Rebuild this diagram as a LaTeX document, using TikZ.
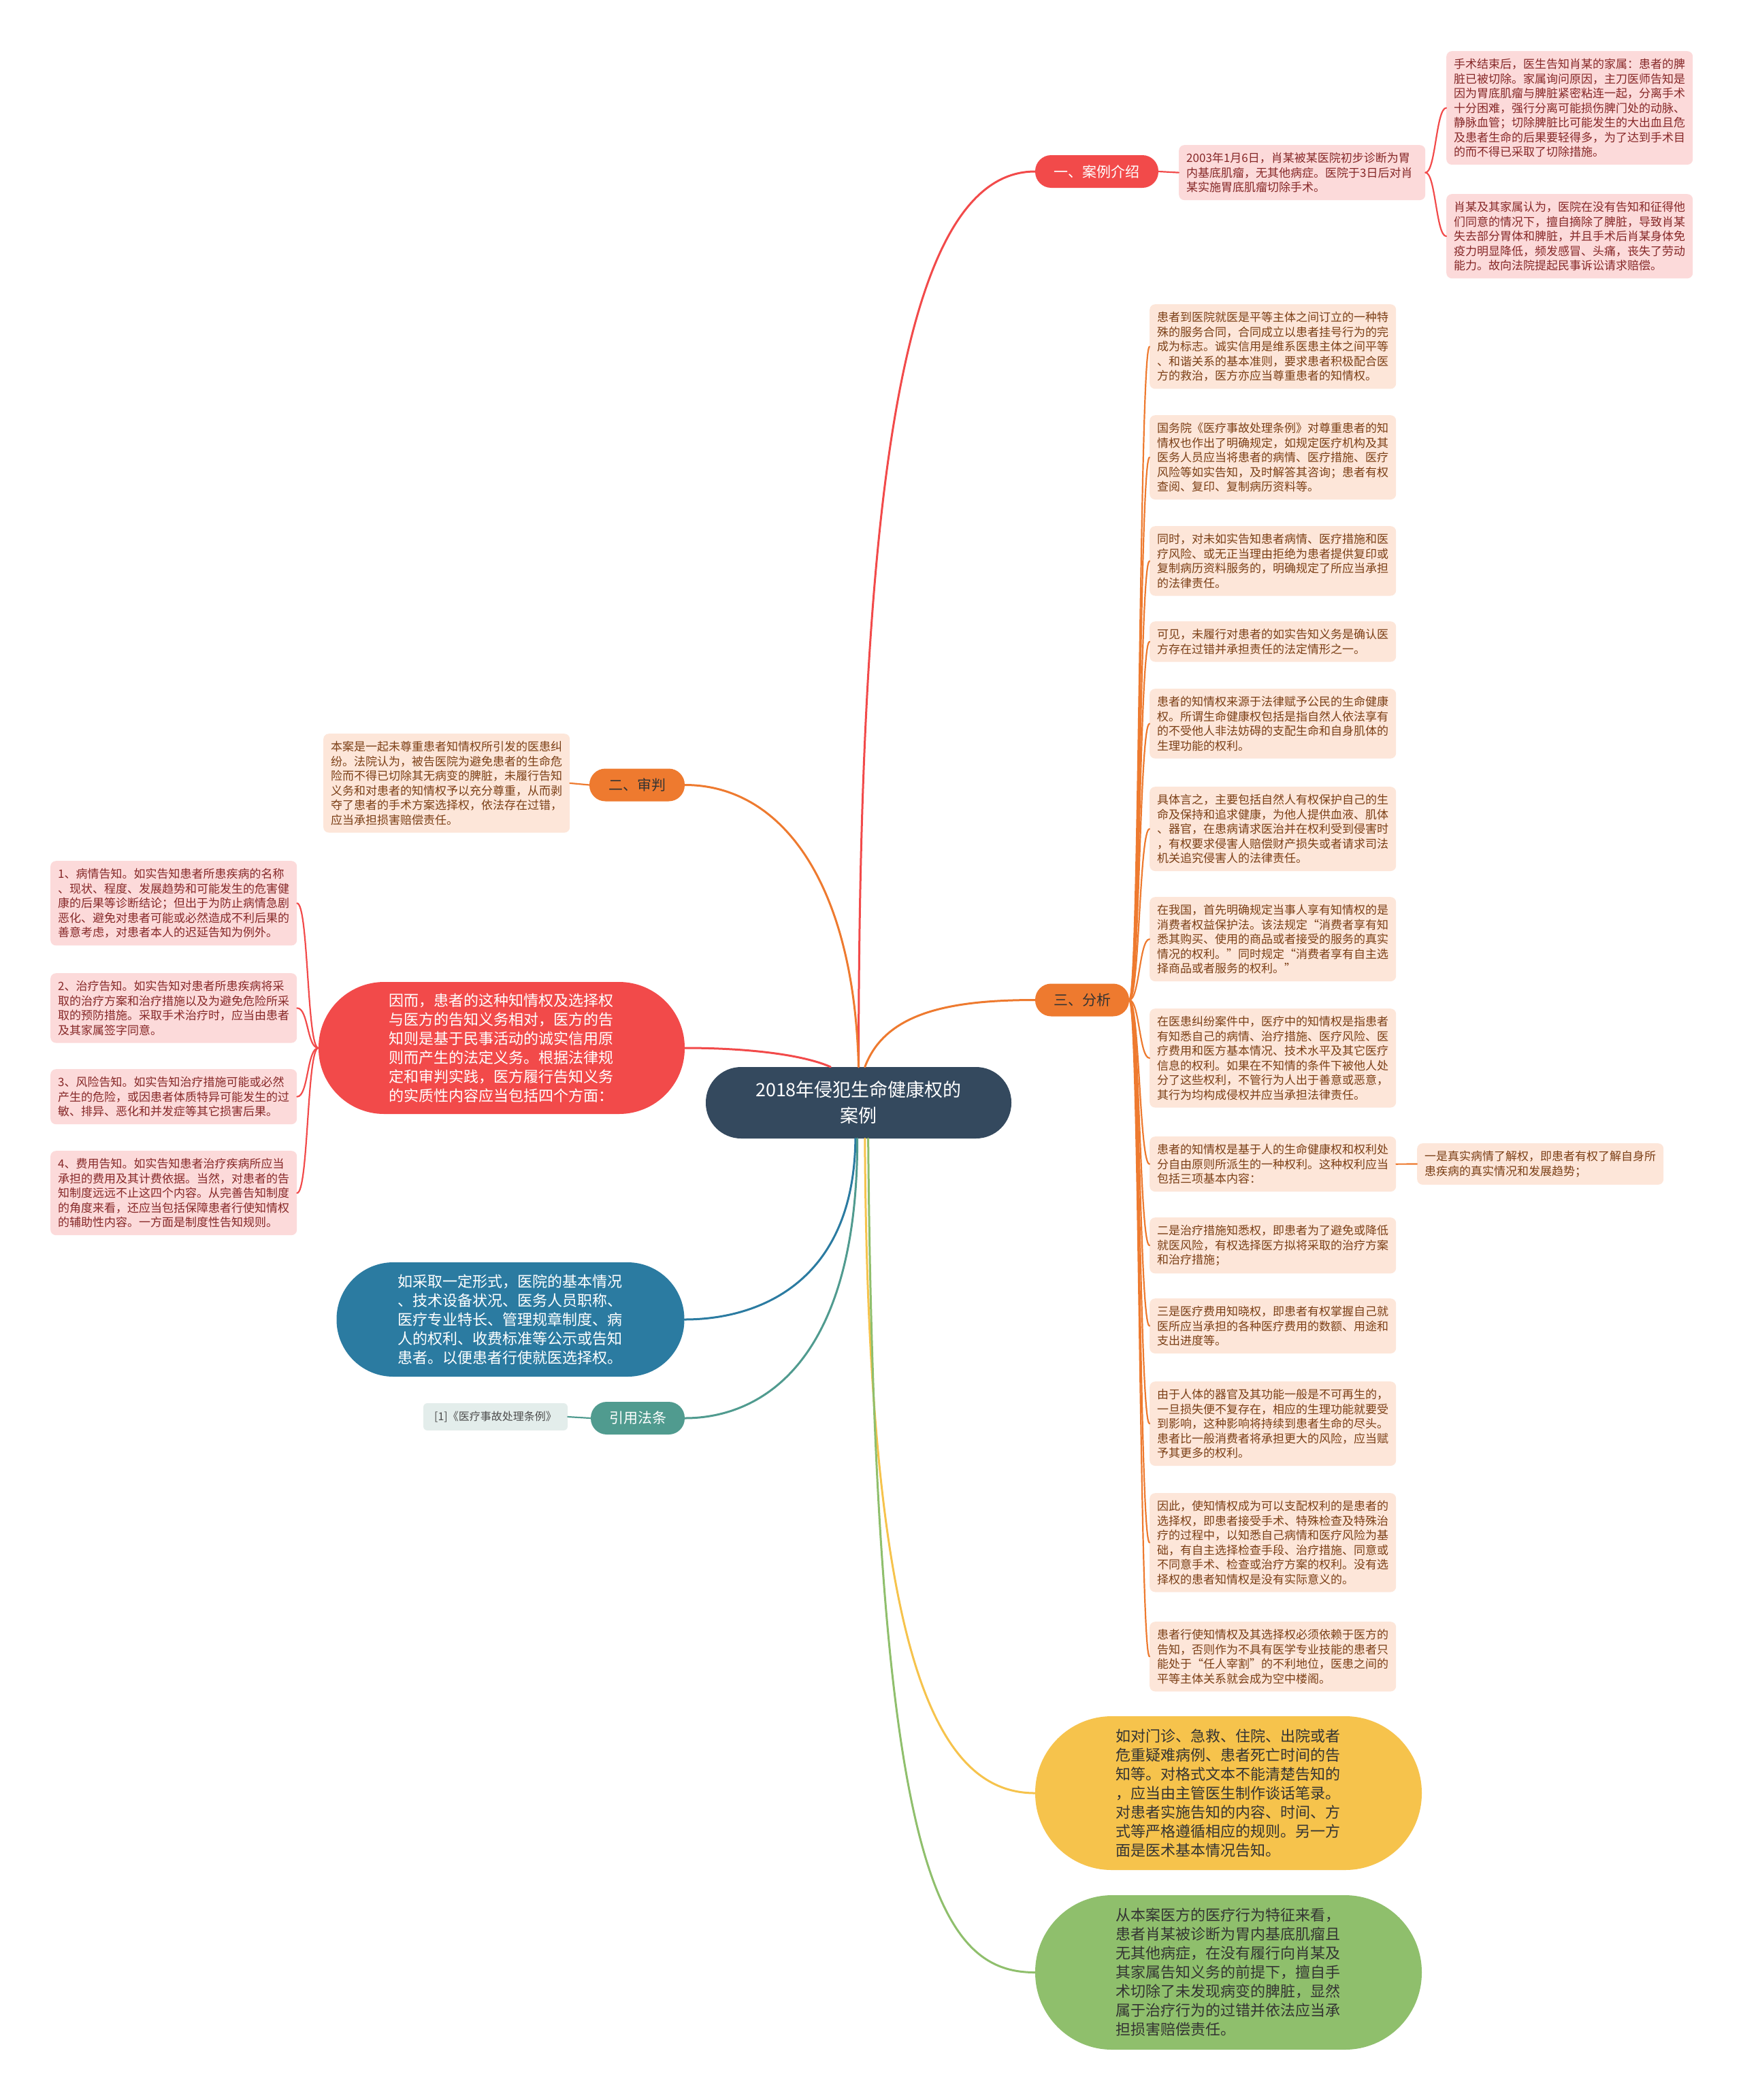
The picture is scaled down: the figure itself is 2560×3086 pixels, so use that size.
\documentclass[tikz,border=0pt]{standalone}
\usepackage{fontspec}
\setmainfont{Noto Sans CJK SC}
\definecolor{hubblue}{HTML}{34495E}
\definecolor{caseRed}{HTML}{F24A4A}
\definecolor{trialOrange}{HTML}{EE7A2F}
\definecolor{infoBlue}{HTML}{2B7BA1}
\definecolor{citeTeal}{HTML}{509B8F}
\definecolor{noticeYellow}{HTML}{F6C34C}
\definecolor{faultGreen}{HTML}{8FBF6C}
\definecolor{pinkbg}{HTML}{FCDADA}
\definecolor{pinktext}{HTML}{862828}
\definecolor{peachbg}{HTML}{FDE6D9}
\definecolor{peachtext}{HTML}{7B3F16}
\definecolor{citebg}{HTML}{E3EDEB}
\begin{document}
\begin{tikzpicture}[x=1pt,y=-1pt,
    pill/.style={rectangle, minimum height=48pt, inner sep=0pt, rounded corners=23.5pt, font=\fontsize{21}{25}\selectfont},
    bignode/.style={rectangle, inner sep=0pt, align=left, text width=332pt, font=\fontsize{22}{28}\selectfont},
    leaf/.style={rectangle, anchor=north west, rounded corners=8pt, align=left, text width=340pt, inner xsep=11pt, inner ysep=11pt, font=\fontsize{17}{21.5}\selectfont},
    redleaf/.style={leaf, fill=pinkbg, text=pinktext},
    orleaf/.style={leaf, fill=peachbg, text=peachtext},
    link/.style={line width=3pt, line cap=round},
    twig/.style={line width=2.2pt, line cap=round}]
\fill[white] (0,0) rectangle (2560,3086);
\useasboundingbox (0,0) rectangle (2560,3086);

\node[rectangle, fill=hubblue, text=white, minimum width=449pt, minimum height=105pt, rounded corners=52pt, align=center, font=\fontsize{27}{38}\selectfont] (ctr) at (1261.5,1620.5) {2018年侵犯生命健康权的\\案例};

\node[pill, fill=caseRed, text=white, minimum width=181pt] (b1) at (1611.5,252) {一、案例介绍};
\node[pill, fill=trialOrange, text=black!80, minimum width=140pt] (b2) at (936,1153.5) {二、审判};
\node[pill, fill=trialOrange, text=black!80, minimum width=138pt] (b3) at (1590,1469.5) {三、分析};
\node[pill, fill=citeTeal, text=white, minimum width=138pt] (cite) at (937,2084) {引用法条};

\node[bignode, fill=caseRed, text=white, minimum width=538pt, minimum height=194pt, rounded corners=96.5pt] (rn) at (737,1540) {因而，患者的这种知情权及选择权\\与医方的告知义务相对，医方的告\\知则是基于民事活动的诚实信用原\\则而产生的法定义务。根据法律规\\定和审判实践，医方履行告知义务\\的实质性内容应当包括四个方面：};
\node[bignode, fill=infoBlue, text=white, minimum width=511pt, minimum height=168pt, rounded corners=83.5pt] (bn) at (750,1939) {如采取一定形式，医院的基本情况\\、技术设备状况、医务人员职称、\\医疗专业特长、管理规章制度、病\\人的权利、收费标准等公示或告知\\患者。以便患者行使就医选择权。};
\node[bignode, fill=noticeYellow, text=black!80, minimum width=568pt, minimum height=226pt, rounded corners=112.5pt] (yn) at (1805,2635) {如对门诊、急救、住院、出院或者\\危重疑难病例、患者死亡时间的告\\知等。对格式文本不能清楚告知的\\，应当由主管医生制作谈话笔录。\\对患者实施告知的内容、时间、方\\式等严格遵循相应的规则。另一方\\面是医术基本情况告知。};
\node[bignode, fill=faultGreen, text=black!80, minimum width=568pt, minimum height=227pt, rounded corners=113pt] (gn) at (1805,2898.5) {从本案医方的医疗行为特征来看，\\患者肖某被诊断为胃内基底肌瘤且\\无其他病症，在没有履行向肖某及\\其家属告知义务的前提下，擅自手\\术切除了未发现病变的脾脏，显然\\属于治疗行为的过错并依法应当承\\担损害赔偿责任。};

\node[redleaf] (c0) at (1732,213) {2003年1月6日，肖某被某医院初步诊断为胃\\内基底肌瘤，无其他病症。医院于3日后对肖\\某实施胃底肌瘤切除手术。};
\node[redleaf] (cA) at (2125,75) {手术结束后，医生告知肖某的家属：患者的脾\\脏已被切除。家属询问原因，主刀医师告知是\\因为胃底肌瘤与脾脏紧密粘连一起，分离手术\\十分困难，强行分离可能损伤脾门处的动脉、\\静脉血管；切除脾脏比可能发生的大出血且危\\及患者生命的后果要轻得多，为了达到手术目\\的而不得已采取了切除措施。};
\node[redleaf] (cB) at (2125,285) {肖某及其家属认为，医院在没有告知和征得他\\们同意的情况下，擅自摘除了脾脏，导致肖某\\失去部分胃体和脾脏，并且手术后肖某身体免\\疫力明显降低，频发感冒、头痛，丧失了劳动\\能力。故向法院提起民事诉讼请求赔偿。};

\node[orleaf] (jd) at (475,1078) {本案是一起未尊重患者知情权所引发的医患纠\\纷。法院认为，被告医院为避免患者的生命危\\险而不得已切除其无病变的脾脏，未履行告知\\义务和对患者的知情权予以充分尊重，从而剥\\夺了患者的手术方案选择权，依法存在过错，\\应当承担损害赔偿责任。};

\node[orleaf] (a1) at (1689,447) {患者到医院就医是平等主体之间订立的一种特\\殊的服务合同，合同成立以患者挂号行为的完\\成为标志。诚实信用是维系医患主体之间平等\\、和谐关系的基本准则，要求患者积极配合医\\方的救治，医方亦应当尊重患者的知情权。};
\node[orleaf] (a2) at (1689,610) {国务院《医疗事故处理条例》对尊重患者的知\\情权也作出了明确规定，如规定医疗机构及其\\医务人员应当将患者的病情、医疗措施、医疗\\风险等如实告知，及时解答其咨询；患者有权\\查阅、复印、复制病历资料等。};
\node[orleaf] (a3) at (1689,773) {同时，对未如实告知患者病情、医疗措施和医\\疗风险、或无正当理由拒绝为患者提供复印或\\复制病历资料服务的，明确规定了所应当承担\\的法律责任。};
\node[orleaf] (a4) at (1689,913) {可见，未履行对患者的如实告知义务是确认医\\方存在过错并承担责任的法定情形之一。};
\node[orleaf] (a5) at (1689,1012) {患者的知情权来源于法律赋予公民的生命健康\\权。所谓生命健康权包括是指自然人依法享有\\的不受他人非法妨碍的支配生命和自身肌体的\\生理功能的权利。};
\node[orleaf] (a6) at (1689,1156) {具体言之，主要包括自然人有权保护自己的生\\命及保持和追求健康，为他人提供血液、肌体\\、器官，在患病请求医治并在权利受到侵害时\\，有权要求侵害人赔偿财产损失或者请求司法\\机关追究侵害人的法律责任。};
\node[orleaf] (a7) at (1689,1318) {在我国，首先明确规定当事人享有知情权的是\\消费者权益保护法。该法规定“消费者享有知\\悉其购买、使用的商品或者接受的服务的真实\\情况的权利。”同时规定“消费者享有自主选\\择商品或者服务的权利。”};
\node[orleaf] (a8) at (1689,1482) {在医患纠纷案件中，医疗中的知情权是指患者\\有知悉自己的病情、治疗措施、医疗风险、医\\疗费用和医方基本情况、技术水平及其它医疗\\信息的权利。如果在不知情的条件下被他人处\\分了这些权利，不管行为人出于善意或恶意，\\其行为均构成侵权并应当承担法律责任。};
\node[orleaf] (a9) at (1689,1670) {患者的知情权是基于人的生命健康权和权利处\\分自由原则所派生的一种权利。这种权利应当\\包括三项基本内容：};
\node[orleaf] (a9s) at (2082,1680) {一是真实病情了解权，即患者有权了解自身所\\患疾病的真实情况和发展趋势；};
\node[orleaf] (a10) at (1689,1789) {二是治疗措施知悉权，即患者为了避免或降低\\就医风险，有权选择医方拟将采取的治疗方案\\和治疗措施；};
\node[orleaf] (a11) at (1689,1908) {三是医疗费用知晓权，即患者有权掌握自己就\\医所应当承担的各种医疗费用的数额、用途和\\支出进度等。};
\node[orleaf] (a12) at (1689,2030) {由于人体的器官及其功能一般是不可再生的，\\一旦损失便不复存在，相应的生理功能就要受\\到影响，这种影响将持续到患者生命的尽头。\\患者比一般消费者将承担更大的风险，应当赋\\予其更多的权利。};
\node[orleaf] (a13) at (1689,2194) {因此，使知情权成为可以支配权利的是患者的\\选择权，即患者接受手术、特殊检查及特殊治\\疗的过程中，以知悉自己病情和医疗风险为基\\础，有自主选择检查手段、治疗措施、同意或\\不同意手术、检查或治疗方案的权利。没有选\\择权的患者知情权是没有实际意义的。};
\node[orleaf] (a14) at (1689,2383) {患者行使知情权及其选择权必须依赖于医方的\\告知，否则作为不具有医学专业技能的患者只\\能处于“任人宰割”的不利地位，医患之间的\\平等主体关系就会成为空中楼阁。};

\node[redleaf] (l1) at (74,1265) {1、病情告知。如实告知患者所患疾病的名称\\、现状、程度、发展趋势和可能发生的危害健\\康的后果等诊断结论；但出于为防止病情急剧\\恶化、避免对患者可能或必然造成不利后果的\\善意考虑，对患者本人的迟延告知为例外。};
\node[redleaf] (l2) at (74,1430) {2、治疗告知。如实告知对患者所患疾病将采\\取的治疗方案和治疗措施以及为避免危险所采\\取的预防措施。采取手术治疗时，应当由患者\\及其家属签字同意。};
\node[redleaf] (l3) at (74,1571) {3、风险告知。如实告知治疗措施可能或必然\\产生的危险，或因患者体质特异可能发生的过\\敏、排异、恶化和并发症等其它损害后果。};
\node[redleaf] (l4) at (74,1691) {4、费用告知。如实告知患者治疗疾病所应当\\承担的费用及其计费依据。当然，对患者的告\\知制度远远不止这四个内容。从完善告知制度\\的角度来看，还应当包括保障患者行使知情权\\的辅助性内容。一方面是制度性告知规则。};

\node[rectangle, fill=citebg, text=black!70, rounded corners=6pt, minimum width=212pt, minimum height=40pt, inner sep=0pt, font=\fontsize{16}{20}\selectfont] (ref) at (728,2082) {[1]《医疗事故处理条例》};

\draw[link, caseRed] (ctr.north) .. controls (1262,700) and (1330,252) .. (b1.west);
\draw[link, trialOrange] (ctr.80) .. controls (1300,1490) and (1390,1469.5) .. (b3.west);
\draw[link, trialOrange] (b2.east) .. controls (1150,1153.5) and (1255,1300) .. (ctr.north);
\draw[link, caseRed] (rn.east) .. controls (1100,1540) and (1180,1550) .. (ctr.128);
\draw[link, infoBlue] (ctr.-95) .. controls (1255,1880) and (1120,1939) .. (bn.east);
\draw[link, citeTeal] (ctr.-92) .. controls (1260,2000) and (1120,2084) .. (cite.east);
\draw[link, noticeYellow] (ctr.-80) .. controls (1275,2450) and (1380,2635) .. (yn.west);
\draw[link, faultGreen] (ctr.-75) .. controls (1285,2750) and (1380,2898.5) .. (gn.west);

\draw[twig, caseRed] (b1.east) -- (c0.west);
\draw[twig, caseRed] (c0.east) .. controls +(15,0) and +(-15,0) .. (cA.west);
\draw[twig, caseRed] (c0.east) .. controls +(15,0) and +(-15,0) .. (cB.west);
\draw[twig, trialOrange] (b2.west) -- (jd.east);
\draw[twig, citeTeal] (cite.west) -- (ref.east);

\draw[twig, trialOrange] (b3.east) .. controls +(15,0) and +(-15,0) .. (a1.west);
\draw[twig, trialOrange] (b3.east) .. controls +(15,0) and +(-15,0) .. (a2.west);
\draw[twig, trialOrange] (b3.east) .. controls +(15,0) and +(-15,0) .. (a3.west);
\draw[twig, trialOrange] (b3.east) .. controls +(15,0) and +(-15,0) .. (a4.west);
\draw[twig, trialOrange] (b3.east) .. controls +(15,0) and +(-15,0) .. (a5.west);
\draw[twig, trialOrange] (b3.east) .. controls +(15,0) and +(-15,0) .. (a6.west);
\draw[twig, trialOrange] (b3.east) .. controls +(15,0) and +(-15,0) .. (a7.west);
\draw[twig, trialOrange] (b3.east) .. controls +(15,0) and +(-15,0) .. (a8.west);
\draw[twig, trialOrange] (b3.east) .. controls +(15,0) and +(-15,0) .. (a9.west);
\draw[twig, trialOrange] (b3.east) .. controls +(15,0) and +(-15,0) .. (a10.west);
\draw[twig, trialOrange] (b3.east) .. controls +(15,0) and +(-15,0) .. (a11.west);
\draw[twig, trialOrange] (b3.east) .. controls +(15,0) and +(-15,0) .. (a12.west);
\draw[twig, trialOrange] (b3.east) .. controls +(15,0) and +(-15,0) .. (a13.west);
\draw[twig, trialOrange] (b3.east) .. controls +(15,0) and +(-15,0) .. (a14.west);
\draw[twig, trialOrange] (a9.east) -- (a9s.west);

\draw[twig, caseRed] (rn.west) .. controls +(-17,0) and +(17,0) .. (l1.east);
\draw[twig, caseRed] (rn.west) .. controls +(-17,0) and +(17,0) .. (l2.east);
\draw[twig, caseRed] (rn.west) .. controls +(-17,0) and +(17,0) .. (l3.east);
\draw[twig, caseRed] (rn.west) .. controls +(-17,0) and +(17,0) .. (l4.east);
\end{tikzpicture}
\end{document}
